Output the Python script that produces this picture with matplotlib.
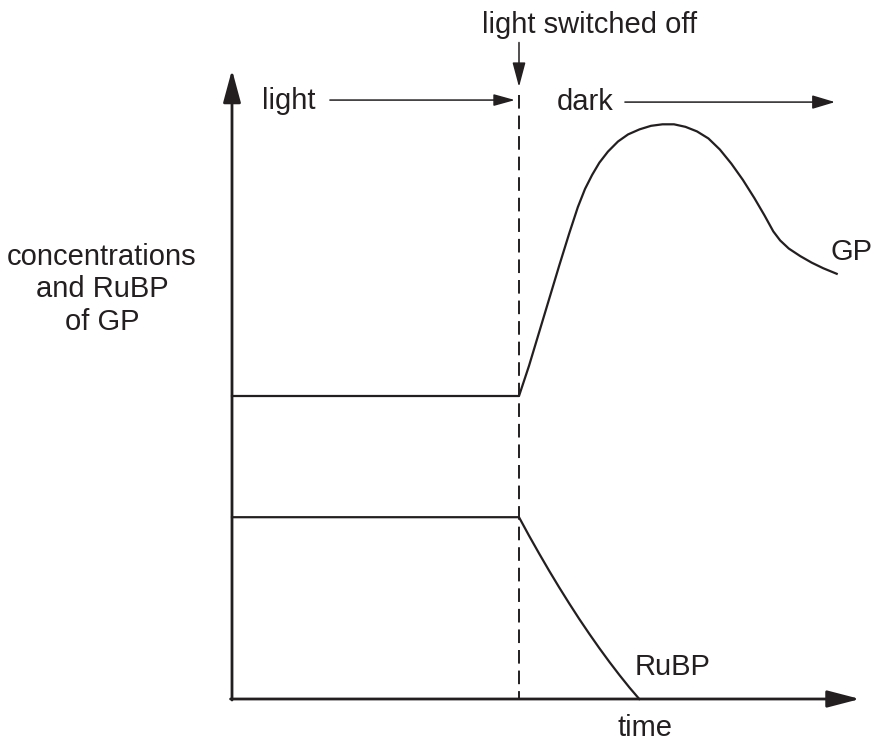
import matplotlib
matplotlib.use('Agg')
import matplotlib.pyplot as plt

plt.rcParams['font.family'] = ['Liberation Sans', 'DejaVu Sans']
plt.rcParams['lines.scale_dashes'] = False

ink = '#231f20'

# time when the light is switched off
t_off = 10.0

# GP concentration (light period is flat, then rise and fall in the dark)
gp_time = [0.0, 10.0, 10.35, 10.7, 11.05, 11.4, 11.75, 12.05, 12.3, 12.55,
           12.8, 13.1, 13.45, 13.8, 14.2, 14.6, 15.0, 15.4, 15.8, 16.2,
           16.6, 17.0, 17.4, 17.8, 18.2, 18.55, 18.86, 19.1, 19.4, 19.8,
           20.2, 20.6, 21.07]
gp_conc = [30.0, 30.0, 33.0, 36.3, 39.6, 42.9, 46.1, 48.7, 50.5, 51.9,
           53.1, 54.2, 55.2, 55.9, 56.4, 56.75, 56.9, 56.9, 56.65, 56.2,
           55.5, 54.4, 53.0, 51.4, 49.6, 47.9, 46.3, 45.4, 44.6, 43.85,
           43.2, 42.65, 42.1]

# RuBP concentration
rubp_time = [0.0, 10.0, 10.35, 10.7, 11.05, 11.4, 11.75, 12.1, 12.45,
             12.8, 13.15, 13.5, 13.85, 14.19]
rubp_conc = [18.0, 18.0, 16.17, 14.41, 12.7, 11.05, 9.46, 7.92, 6.45,
             5.03, 3.67, 2.37, 1.13, 0.0]

# axis extents (arrow tips)
t_max = 21.88
c_max = 62.3

fig = plt.figure(figsize=(8.71, 7.45), dpi=100)
ax = fig.add_axes([0, 0, 1, 1])
ax.set_xlim(-232 / 28.7, (871 - 232) / 28.7)
ax.set_ylim(-(745 - 699) / 10.1, 699 / 10.1)
ax.axis('off')

# axes with arrow heads
ax.annotate('', xy=(t_max, 0), xytext=(-0.05, 0),
            arrowprops=dict(arrowstyle='-|>,head_length=20,head_width=5.2',
                            mutation_scale=1, lw=2, color=ink,
                            shrinkA=0, shrinkB=0))
ax.annotate('', xy=(0, c_max), xytext=(0, -0.1),
            arrowprops=dict(arrowstyle='-|>,head_length=20,head_width=5.4',
                            mutation_scale=1, lw=2, color=ink,
                            shrinkA=0, shrinkB=0))

# dashed line where light goes off
ax.plot([t_off, t_off], [59.8, 0], color=ink, lw=1.4,
        linestyle=(0, (9.8, 5.0)))

# curves
ax.plot(gp_time, gp_conc, color=ink, lw=1.6, solid_joinstyle='round')
ax.plot(rubp_time, rubp_conc, color=ink, lw=1.6, solid_joinstyle='round')

# light / dark arrows
ax.annotate('', xy=(9.86, 59.3), xytext=(3.41, 59.3),
            arrowprops=dict(arrowstyle='-|>,head_length=13,head_width=3.6',
                            mutation_scale=1, lw=1.1, color=ink,
                            shrinkA=0, shrinkB=0))
ax.annotate('', xy=(21.01, 59.1), xytext=(13.69, 59.1),
            arrowprops=dict(arrowstyle='-|>,head_length=14,head_width=4.2',
                            mutation_scale=1, lw=1.1, color=ink,
                            shrinkA=0, shrinkB=0))
ax.annotate('', xy=(t_off, 60.6), xytext=(t_off, 65.0),
            arrowprops=dict(arrowstyle='-|>,head_length=15,head_width=4.0',
                            mutation_scale=1, lw=1.1, color=ink,
                            shrinkA=0, shrinkB=0))

fs = 21
ax.text(8.71, 65.9, 'light switched off', fontsize=fs, color=ink,
        ha='left', va='baseline')
ax.text(1.05, 58.4, 'light', fontsize=fs, color=ink, ha='left', va='baseline')
ax.text(11.32, 58.3, 'dark', fontsize=fs, color=ink, ha='left', va='baseline')
ax.text(20.84, 43.5, 'GP', fontsize=fs, color=ink, ha='left', va='baseline')
ax.text(14.04, 2.4, 'RuBP', fontsize=fs, color=ink, ha='left', va='baseline')
ax.text(14.39, -3.7, 'time', fontsize=fs, color=ink, ha='center', va='baseline')

ylab = ['concentrations', 'and RuBP', 'of GP']
for line, yy in zip(ylab, [43.0, 39.8, 36.5]):
    ax.text(-4.53, yy, line, fontsize=fs, color=ink, ha='center', va='baseline')

fig.savefig('out.png', dpi=100)
